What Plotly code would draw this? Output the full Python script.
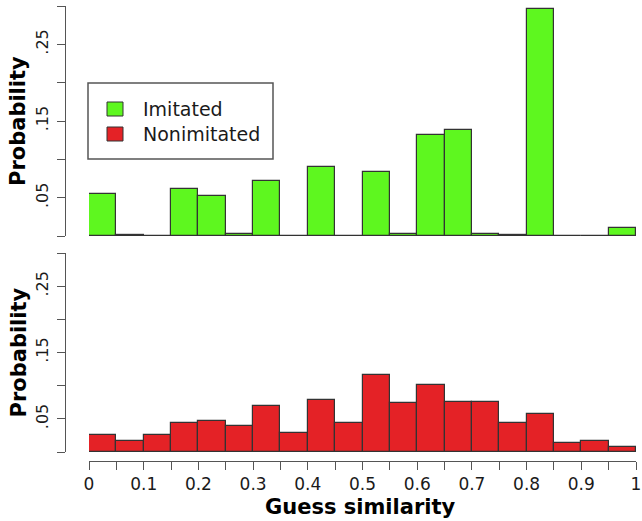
import plotly.graph_objects as go

# Histogram bins (left edges, width 0.05) of guess similarity
bin_left = [0.00, 0.05, 0.10, 0.15, 0.20, 0.25, 0.30, 0.35, 0.40, 0.45,
            0.50, 0.55, 0.60, 0.65, 0.70, 0.75, 0.80, 0.85, 0.90, 0.95]
bin_width = 0.05

# Probability per bin
imitated = [0.055, 0.001, 0.000, 0.061, 0.052, 0.002, 0.072, 0.000, 0.090, 0.000,
            0.083, 0.002, 0.132, 0.138, 0.003, 0.001, 0.296, 0.000, 0.000, 0.010]
nonimitated = [0.025, 0.017, 0.025, 0.043, 0.046, 0.039, 0.069, 0.028, 0.079, 0.044,
               0.116, 0.074, 0.101, 0.075, 0.075, 0.044, 0.057, 0.013, 0.016, 0.008]

series_names = ["Imitated", "Nonimitated"]
series_colors = ["#5ef71f", "#e42226"]

y_tickvals = [0.0, 0.05, 0.10, 0.15, 0.20, 0.25, 0.30]
y_ticktext = ["", ".05", "", ".15", "", ".25", ""]
x_tickvals = [0.0, 0.05, 0.1, 0.15, 0.2, 0.25, 0.3, 0.35, 0.4, 0.45, 0.5,
              0.55, 0.6, 0.65, 0.7, 0.75, 0.8, 0.85, 0.9, 0.95, 1.0]
x_ticktext = ["0", "", "0.1", "", "0.2", "", "0.3", "", "0.4", "", "0.5",
              "", "0.6", "", "0.7", "", "0.8", "", "0.9", "", "1"]

W, H = 642, 521
ML, MR, MT, MB = 65, 6, 6, 60
PW, PH = W - ML - MR, H - MT - MB


def px(xp):
    return (xp - ML) / PW


def py(yp):
    return (H - MB - yp) / PH


AXIS_COL = "#555555"
EDGE_COL = "#333333"
TXT_COL = "#1a1a1a"
FONT = "DejaVu Sans"

fig = go.Figure()
fig.add_trace(go.Bar(
    x=bin_left, y=imitated, width=bin_width, offset=0,
    marker=dict(color=series_colors[0], line=dict(color=EDGE_COL, width=1.2)),
    xaxis="x", yaxis="y", name=series_names[0], showlegend=False,
))
fig.add_trace(go.Bar(
    x=bin_left, y=nonimitated, width=bin_width, offset=0,
    marker=dict(color=series_colors[1], line=dict(color=EDGE_COL, width=1.2)),
    xaxis="x", yaxis="y2", name=series_names[1], showlegend=False,
))

# Baseline under the upper histogram (edges of empty bins)
fig.add_shape(type="line", xref="x", yref="y", x0=0, x1=1, y0=0, y1=0,
              line=dict(color=EDGE_COL, width=1.2), layer="above")

yaxis_common = dict(
    range=[0, 0.3], tickmode="array", tickvals=y_tickvals, ticktext=y_ticktext,
    tickangle=-90, ticks="outside", ticklen=8, tickwidth=1, tickcolor=AXIS_COL,
    showline=True, linecolor=AXIS_COL, linewidth=1, showgrid=False,
    zeroline=False, anchor="free", position=0, ticklabelstandoff=3,
    tickfont=dict(family=FONT, size=16, color=TXT_COL), fixedrange=True,
    automargin=False,
)

fig.update_layout(
    width=W, height=H,
    margin=dict(l=ML, r=MR, t=MT, b=MB, autoexpand=False),
    paper_bgcolor="white", plot_bgcolor="white",
    bargap=0,
    xaxis=dict(
        domain=[px(89), 1], range=[0, 1], anchor="free", position=0,
        tickmode="array", tickvals=x_tickvals, ticktext=x_ticktext,
        ticks="outside", ticklen=8, tickwidth=1, tickcolor=AXIS_COL,
        showline=True, linecolor=AXIS_COL, linewidth=1, showgrid=False,
        zeroline=False, tickfont=dict(family=FONT, size=17, color=TXT_COL),
        ticklabeloverflow="allow", automargin=False, fixedrange=True,
    ),
    yaxis=dict(domain=[py(236), 1], **yaxis_common),
    yaxis2=dict(domain=[py(452), py(253)], **yaxis_common),
)

# Axis titles
for yc in [(6 + 236) / 2, (253 + 452) / 2]:
    fig.add_annotation(
        x=px(18), y=py(yc), xref="paper", yref="paper",
        text="<b>Probability</b>", textangle=-90, showarrow=False,
        font=dict(family=FONT, size=21, color="black"),
        xanchor="center", yanchor="middle",
    )
fig.add_annotation(
    x=px(360), y=py(507), xref="paper", yref="paper",
    text="<b>Guess similarity</b>", showarrow=False,
    font=dict(family=FONT, size=21, color="black"),
    xanchor="center", yanchor="middle", borderpad=0,
)

# Legend box
fig.add_shape(type="rect", xref="paper", yref="paper",
              x0=px(88), x1=px(273), y0=py(159), y1=py(83),
              line=dict(color=AXIS_COL, width=1.5), fillcolor="white")
for i, (name, col) in enumerate(zip(series_names, series_colors)):
    top = 102 + i * 25
    fig.add_shape(type="rect", xref="paper", yref="paper",
                  x0=px(107), x1=px(123), y0=py(top + 14), y1=py(top),
                  line=dict(color=EDGE_COL, width=1), fillcolor=col)
    fig.add_annotation(
        x=px(141), y=py(top + 7), xref="paper", yref="paper",
        text=name, showarrow=False, xanchor="left", yanchor="middle",
        font=dict(family=FONT, size=19, color=TXT_COL),
    )

fig.write_html("out.html")
